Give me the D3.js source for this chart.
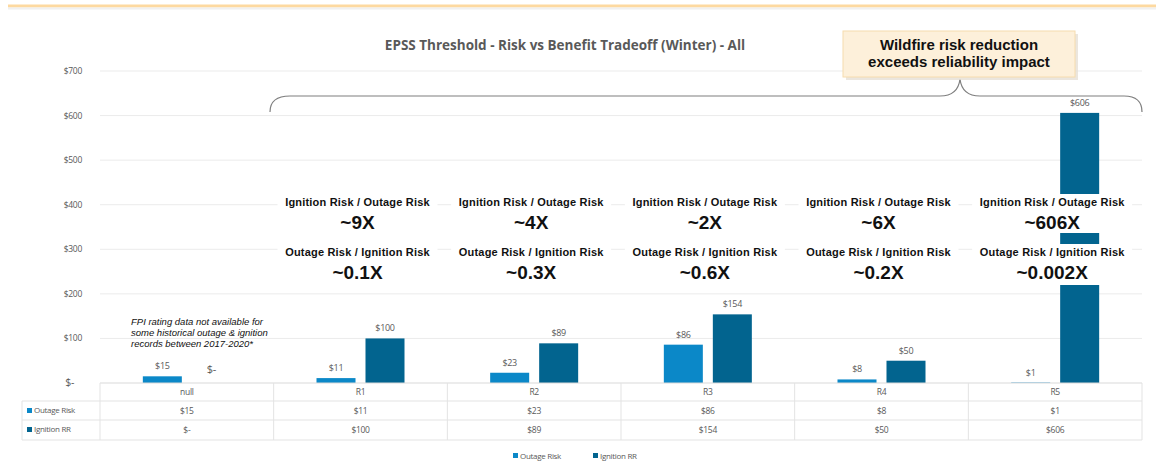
<!DOCTYPE html>
<html lang="en">
<head>
<meta charset="UTF-8">
<title>EPSS Threshold - Risk vs Benefit Tradeoff (Winter)</title>
<script src="https://d3js.org/d3.v7.min.js"></script>
<style>
    html, body { margin: 0; background: #fff; overflow: hidden; }
    svg { display: block; }
    .lbl { font-family: "Open Sans", sans-serif; fill: #595959; }
    .ann { font-family: "Liberation Sans", Arial, sans-serif; fill: #111; }
</style>
</head>
<body>
<svg id="chart" width="1156" height="464"></svg>
<script>
// data
const categories = ["null", "R1", "R2", "R3", "R4", "R5"];
const outageRisk = [15, 11, 23, 86, 8, 1];
const ignitionRR = [0, 100, 89, 154, 50, 606];
const yTicks = [0, 100, 200, 300, 400, 500, 600, 700];
const ratioIgnOut = [null, "~9X", "~4X", "~2X", "~6X", "~606X"];
const ratioOutIgn = [null, "~0.1X", "~0.3X", "~0.6X", "~0.2X", "~0.002X"];
const seriesNames = ["Outage Risk", "Ignition RR"];
const seriesColors = ["#0b88c8", "#02648f"];

const svg = d3.select("#chart");
const fmt = v => v === 0 ? "$-" : "$" + v;

// top accent line
svg.append("line").attr("x1", 8).attr("x2", 1156).attr("y1", 6).attr("y2", 6)
    .attr("stroke", "#fdd9a0").attr("stroke-width", 3);
svg.append("line").attr("x1", 8).attr("x2", 1156).attr("y1", 8.5).attr("y2", 8.5)
    .attr("stroke", "#f0f0f0").attr("stroke-width", 2);

const x = d3.scaleBand().domain(categories).range([100, 1142]);
const xs = d3.scaleBand().domain([0, 1]).range([-44, 44]).paddingInner(0.204);
const y = d3.scaleLinear().domain([0, 700]).range([383, 71]);

// gridlines + y labels
svg.append("g").selectAll("line").data(yTicks.slice(1)).join("line")
    .attr("x1", 100).attr("x2", 1142)
    .attr("y1", d => y(d)).attr("y2", d => y(d))
    .attr("stroke", "#ebebeb");
svg.append("g").selectAll("text").data(yTicks).join("text")
    .attr("class", "lbl")
    .attr("x", d => d === 0 ? 74 : 82).attr("y", d => y(d) + 3)
    .attr("text-anchor", "end")
    .attr("font-size", d => d === 0 ? 10.5 : 8.5)
    .attr("letter-spacing", -0.3)
    .text(fmt);

// title
svg.append("text").attr("class", "lbl").attr("x", 565).attr("y", 50)
    .attr("text-anchor", "middle").attr("font-size", 13.5).attr("font-weight", 700)
    .attr("letter-spacing", 0)
    .text("EPSS Threshold  - Risk vs Benefit Tradeoff (Winter)  - All");

// brace
svg.append("path")
    .attr("d", "M270,112 Q270,96 290,96 L940,96 Q958,96 960,79 Q962,96 980,96 L1124,96 Q1142,96 1142,112")
    .attr("fill", "none").attr("stroke", "#7f7f7f").attr("stroke-width", 1.2);

// callout box
svg.append("rect").attr("x", 846).attr("y", 34).attr("width", 232).attr("height", 46)
    .attr("fill", "#e6e0d6").attr("opacity", 0.8);
svg.append("rect").attr("x", 843).attr("y", 31).attr("width", 232).attr("height", 46)
    .attr("fill", "#fdf0da").attr("stroke", "#f6dcae").attr("stroke-width", 1);
svg.append("text").attr("class", "ann").attr("x", 959).attr("y", 50)
    .attr("text-anchor", "middle").attr("font-size", 15).attr("font-weight", 700)
    .attr("fill", "#222").text("Wildfire risk reduction");
svg.append("text").attr("class", "ann").attr("x", 959).attr("y", 67)
    .attr("text-anchor", "middle").attr("font-size", 15).attr("font-weight", 700)
    .attr("fill", "#222").text("exceeds reliability impact");

// bars
const rows = categories.map((c, i) => ({ c, vals: [outageRisk[i], ignitionRR[i]] }));
const groups = svg.append("g").selectAll("g").data(rows).join("g")
    .attr("transform", d => `translate(${x(d.c) + x.bandwidth() / 2},0)`);
groups.selectAll("rect").data(d => d.vals).join("rect")
    .attr("x", (d, i) => xs(i)).attr("width", xs.bandwidth())
    .attr("y", d => y(d)).attr("height", d => y(0) - y(d))
    .attr("fill", (d, i) => seriesColors[i]);
groups.selectAll("text").data(d => d.vals).join("text")
    .attr("class", "lbl")
    .attr("x", (d, i) => xs(i) + xs.bandwidth() / 2)
    .attr("y", d => d === 0 ? y(0) - 10 : y(d) - 7)
    .attr("text-anchor", "middle")
    .attr("font-size", d => d === 0 ? 11 : 9)
    .attr("letter-spacing", -0.3)
    .text(fmt);

// ratio annotations
const annCats = categories.map((c, i) => ({ c, a: ratioIgnOut[i], b: ratioOutIgn[i] })).filter(d => d.a);
const ann = svg.append("g").selectAll("g").data(annCats).join("g")
    .attr("transform", d => `translate(${x(d.c) + x.bandwidth() / 2 - 3},0)`);
ann.append("rect").attr("x", -80).attr("y", 194).attr("width", 160).attr("height", 39).attr("fill", "#fff");
ann.append("rect").attr("x", -80).attr("y", 244).attr("width", 160).attr("height", 41).attr("fill", "#fff");
ann.append("text").attr("class", "ann").attr("y", 206).attr("text-anchor", "middle")
    .attr("font-size", 11).attr("font-weight", 700).attr("letter-spacing", 0.2)
    .text("Ignition Risk / Outage Risk");
ann.append("text").attr("class", "ann").attr("y", 229).attr("text-anchor", "middle")
    .attr("font-size", 19).attr("font-weight", 700).text(d => d.a);
ann.append("text").attr("class", "ann").attr("y", 256).attr("text-anchor", "middle")
    .attr("font-size", 11).attr("font-weight", 700).attr("letter-spacing", 0.2)
    .text("Outage Risk / Ignition Risk");
ann.append("text").attr("class", "ann").attr("y", 279).attr("text-anchor", "middle")
    .attr("font-size", 19).attr("font-weight", 700).text(d => d.b);

// note for null category
const note = ["FPI rating data not available for", "some historical outage & ignition", "records between 2017-2020*"];
svg.append("g").selectAll("text").data(note).join("text")
    .attr("class", "ann").attr("x", 131).attr("y", (d, i) => 325 + i * 11)
    .attr("font-size", 9.5).attr("font-style", "italic").attr("letter-spacing", 0).text(d => d);

// data table
const tbl = svg.append("g");
const rowY = [383, 401, 420, 440];
tbl.append("line").attr("x1", 100).attr("x2", 1142).attr("y1", rowY[0]).attr("y2", rowY[0]).attr("stroke", "#d9d9d9");
[1, 2, 3].forEach(r => tbl.append("line").attr("x1", 22).attr("x2", 1142)
    .attr("y1", rowY[r]).attr("y2", rowY[r]).attr("stroke", "#e3e3e3"));
tbl.append("line").attr("x1", 22).attr("x2", 22).attr("y1", rowY[1]).attr("y2", rowY[3]).attr("stroke", "#e3e3e3");
tbl.selectAll(".vl").data(categories.concat(["end"])).join("line")
    .attr("x1", (d, i) => 100 + i * x.bandwidth()).attr("x2", (d, i) => 100 + i * x.bandwidth())
    .attr("y1", rowY[0]).attr("y2", rowY[3]).attr("stroke", "#e3e3e3");
tbl.selectAll(".cat").data(categories).join("text").attr("class", "lbl")
    .attr("x", d => x(d) + x.bandwidth() / 2).attr("y", 395).attr("text-anchor", "middle")
    .attr("font-size", 8.5).attr("letter-spacing", -0.3).text(d => d);
[outageRisk, ignitionRR].forEach((vals, r) => {
    tbl.append("g").selectAll("text").data(vals).join("text").attr("class", "lbl")
        .attr("x", (d, i) => x(categories[i]) + x.bandwidth() / 2)
        .attr("y", rowY[r + 1] + 13).attr("text-anchor", "middle")
        .attr("font-size", 8.5).attr("letter-spacing", -0.3).text(fmt);
    tbl.append("rect").attr("x", 27).attr("y", rowY[r + 1] + 7).attr("width", 5).attr("height", 5)
        .attr("fill", seriesColors[r]);
    tbl.append("text").attr("class", "lbl").attr("x", 34).attr("y", rowY[r + 1] + 12)
        .attr("font-size", 8).attr("letter-spacing", -0.3).text(seriesNames[r]);
});

// legend
const lg = svg.append("g").selectAll("g").data(seriesNames).join("g")
    .attr("transform", (d, i) => `translate(${513 + i * 80},452)`);
lg.append("rect").attr("width", 5).attr("height", 5).attr("y", 1).attr("fill", (d, i) => seriesColors[i]);
lg.append("text").attr("class", "lbl").attr("x", 7).attr("y", 6.5)
    .attr("font-size", 8).attr("letter-spacing", -0.3).text(d => d);
</script>
</body>
</html>
